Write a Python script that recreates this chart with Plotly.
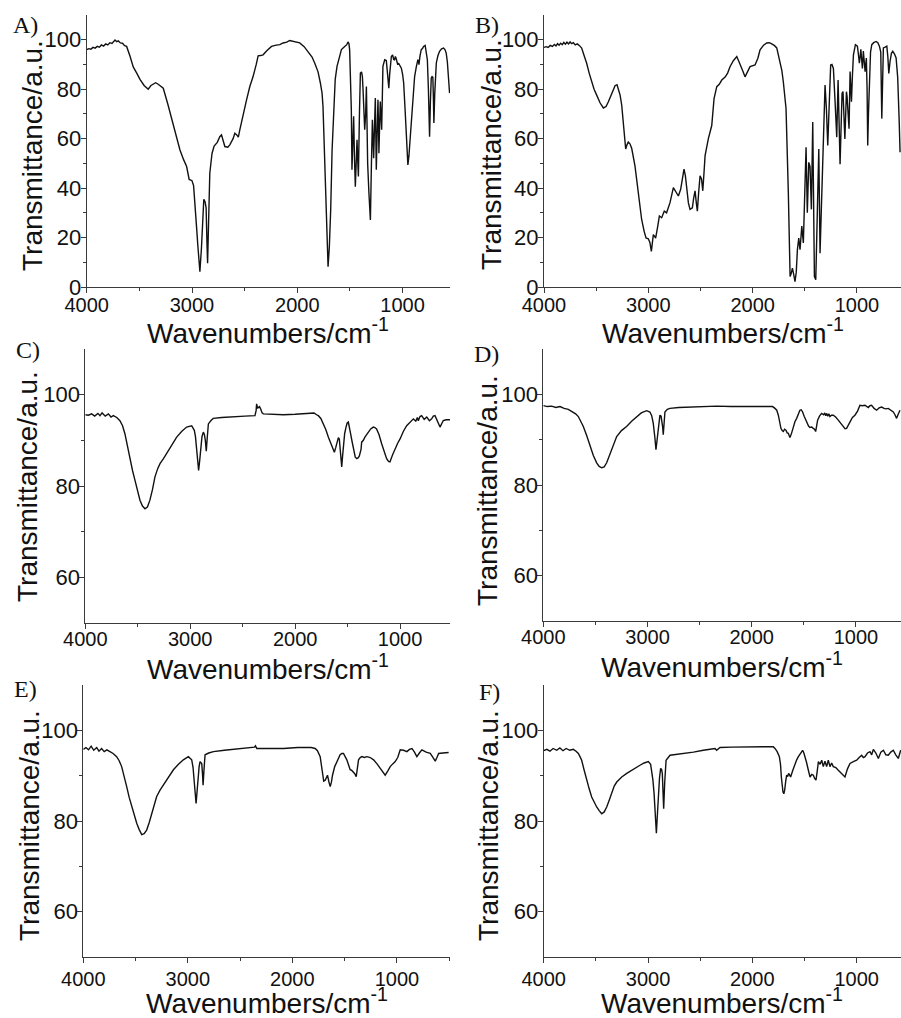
import plotly.graph_objects as go

# ---------------- data (wavenumber cm^-1, transmittance a.u.) ----------------
A_wn = [4000, 3980, 3960, 3940, 3920, 3900, 3880, 3860, 3840, 3820, 3800, 3780, 3760, 3745, 3731, 3715,
        3700, 3680, 3660, 3640, 3621, 3590, 3558, 3525, 3494, 3455, 3416, 3390, 3368, 3345, 3321, 3295,
        3273, 3230, 3179, 3145, 3115, 3080, 3051, 3027, 3000, 2985, 2973, 2957, 2945, 2925, 2910, 2900,
        2888, 2876, 2866, 2858, 2852, 2845, 2831, 2810, 2790, 2760, 2736, 2720, 2705, 2688, 2660, 2641,
        2610, 2593, 2575, 2560, 2546, 2520, 2482, 2451, 2420, 2390, 2372, 2350, 2325, 2290, 2245, 2200,
        2166, 2135, 2100, 2072, 2040, 1977, 1935, 1898, 1860, 1835, 1803, 1781, 1765, 1756, 1740, 1730,
        1718, 1708, 1696, 1683, 1670, 1654, 1640, 1623, 1600, 1581, 1550, 1530, 1519, 1510, 1503, 1495,
        1487, 1481, 1473, 1465, 1457, 1449, 1441, 1433, 1427, 1420, 1410, 1401, 1390, 1382, 1376, 1370,
        1360, 1351, 1344, 1338, 1332, 1320, 1306, 1296, 1287, 1281, 1275, 1267, 1259, 1254, 1250, 1242,
        1234, 1229, 1225, 1218, 1212, 1205, 1199, 1192, 1187, 1170, 1155, 1147, 1139, 1131, 1123, 1115,
        1107, 1095, 1085, 1077, 1069, 1062, 1054, 1046, 1038, 1025, 1012, 1000, 990, 978, 965, 957,
        950, 940, 927, 905, 886, 870, 855, 849, 845, 835, 823, 810, 801, 786, 775, 765, 755, 744, 736,
        728, 720, 713, 708, 703, 695, 680, 665, 649, 630, 611, 598, 586, 575, 565, 554]
A_T = [96.0, 96.4, 96.2, 96.9, 96.6, 97.3, 97.0, 97.9, 97.4, 98.3, 97.9, 98.8, 98.5, 99.3, 99.9, 99.2,
       99.5, 98.7, 98.6, 97.6, 97.3, 93.5, 89.0, 86.5, 84.0, 81.5, 80.0, 81.5, 82.2, 82.6, 82.0, 81.3,
       80.4, 74.0, 66.0, 60.0, 55.5, 51.5, 48.7, 43.5, 43.0, 41.0, 35.0, 24.4, 17.0, 6.2, 16.0, 27.0,
       35.5, 34.5, 32.0, 18.0, 9.6, 22.0, 46.0, 54.0, 57.0, 58.5, 60.8, 61.5, 59.0, 56.8, 56.5, 57.5,
       60.0, 62.2, 61.5, 60.6, 63.5, 69.0, 75.7, 81.1, 85.1, 90.0, 93.5, 93.6, 93.9, 95.5, 97.3, 97.8,
       98.0, 98.7, 99.0, 99.7, 99.4, 98.7, 97.2, 95.3, 93.0, 90.6, 87.0, 82.5, 78.4, 73.0, 50.0, 31.2,
       15.0, 8.2, 16.0, 31.2, 55.0, 74.4, 84.0, 89.2, 93.5, 96.0, 97.3, 98.0, 99.1, 98.5, 96.0, 85.0,
       71.7, 47.4, 60.0, 69.0, 52.0, 40.6, 50.0, 59.5, 52.0, 44.7, 70.0, 86.5, 87.0, 85.1, 80.0, 74.4,
       63.6, 70.0, 81.1, 66.0, 50.0, 38.0, 27.1, 50.0, 67.6, 60.0, 52.1, 65.0, 76.4, 60.0, 47.4, 62.0,
       75.7, 65.0, 54.1, 66.0, 75.0, 69.0, 63.6, 78.0, 89.2, 91.9, 91.6, 88.0, 85.1, 80.4, 86.0, 91.0,
       93.2, 93.9, 92.0, 91.9, 93.2, 92.5, 91.0, 89.9, 90.5, 89.5, 88.5, 86.0, 82.5, 73.0, 60.8, 53.0,
       49.4, 53.0, 60.8, 76.0, 85.1, 89.0, 91.9, 91.0, 89.9, 93.5, 96.0, 96.5, 97.3, 97.7, 94.6, 91.9,
       80.0, 60.8, 75.0, 84.5, 85.1, 84.8, 77.0, 66.3, 78.0, 90.6, 93.5, 95.3, 96.3, 96.6, 96.0, 94.6,
       91.0, 85.0, 78.4]

B_wn = [4000, 3980, 3960, 3940, 3920, 3900, 3885, 3870, 3855, 3840, 3825, 3810, 3795, 3780, 3765, 3750,
        3735, 3719, 3700, 3680, 3660, 3639, 3615, 3591, 3567, 3543, 3520, 3495, 3463, 3431, 3405, 3383,
        3350, 3319, 3300, 3287, 3270, 3255, 3244, 3233, 3217, 3205, 3192, 3175, 3159, 3128, 3096, 3064,
        3040, 3022, 3000, 2985, 2971, 2962, 2952, 2940, 2930, 2912, 2894, 2872, 2847, 2825, 2792, 2760,
        2735, 2712, 2690, 2670, 2658, 2645, 2632, 2616, 2600, 2578, 2565, 2552, 2540, 2530, 2518, 2504,
        2490, 2478, 2465, 2456, 2425, 2392, 2370, 2344, 2320, 2296, 2264, 2240, 2217, 2185, 2152, 2121,
        2100, 2073, 2050, 2025, 1977, 1950, 1929, 1895, 1865, 1840, 1817, 1790, 1769, 1737, 1720, 1706,
        1680, 1658, 1641, 1630, 1619, 1606, 1594, 1582, 1571, 1558, 1546, 1537, 1529, 1514, 1500, 1488,
        1476, 1462, 1450, 1437, 1424, 1416, 1408, 1395, 1385, 1366, 1354, 1343, 1332, 1320, 1306, 1293,
        1280, 1265, 1252, 1240, 1226, 1210, 1194, 1181, 1172, 1162, 1152, 1143, 1134, 1124, 1116, 1108,
        1101, 1095, 1085, 1076, 1066, 1060, 1053, 1044, 1034, 1015, 996, 986, 977, 970, 963, 955, 948,
        943, 939, 930, 922, 916, 910, 903, 897, 890, 881, 870, 858, 840, 817, 800, 785, 772, 762, 754,
        747, 730, 714, 704, 695, 683, 670, 657, 640, 625, 610, 596, 587]
B_T = [96.9, 97.2, 96.9, 97.7, 97.3, 98.1, 97.5, 98.4, 97.8, 98.6, 98.0, 98.9, 98.2, 99.0, 98.3, 99.1,
       98.4, 98.8, 97.9, 98.3, 97.6, 96.6, 93.5, 90.5, 86.5, 83.0, 80.0, 77.6, 74.5, 72.4, 73.0, 74.9,
       78.5, 81.4, 81.8, 80.3, 77.5, 73.5, 68.0, 62.7, 55.8, 57.5, 58.6, 57.8, 56.0, 49.0, 38.2, 27.3,
       22.5, 19.8, 19.5, 18.0, 14.4, 18.5, 21.2, 20.5, 19.8, 24.0, 28.7, 28.0, 30.7, 30.0, 34.1, 40.2,
       38.5, 36.8, 39.5, 44.0, 47.7, 45.0, 40.8, 34.0, 31.4, 32.0, 36.0, 38.9, 34.0, 30.7, 38.0, 45.0,
       43.7, 38.9, 47.0, 53.1, 59.9, 65.3, 76.2, 81.0, 82.0, 83.7, 84.9, 86.5, 89.1, 91.5, 93.2, 90.5,
       88.0, 85.0, 87.0, 89.1, 89.8, 92.5, 95.9, 97.8, 98.7, 98.8, 98.3, 97.6, 96.7, 91.2, 87.5, 83.0,
       72.2, 38.2, 4.2, 5.5, 7.6, 5.0, 2.2, 6.0, 15.1, 19.8, 15.1, 20.0, 24.6, 17.8, 35.0, 56.5,
       30.0, 50.4, 48.7, 31.4, 66.7, 40.0, 4.2, 2.9, 20.5, 55.8, 13.7, 30.0, 51.8, 68.0, 81.7, 72.0,
       57.2, 75.0, 89.8, 90.0, 88.4, 75.0, 60.6, 83.7, 70.0, 49.7, 65.0, 78.3, 79.0, 70.0, 59.9, 70.0,
       79.0, 77.0, 70.0, 64.0, 87.1, 80.0, 74.9, 85.0, 93.9, 98.0, 97.4, 94.0, 90.5, 93.0, 96.1, 92.0,
       88.4, 92.0, 95.4, 91.0, 87.1, 90.0, 92.6, 80.0, 57.2, 70.0, 87.1, 95.0, 98.0, 98.8, 99.3, 98.8,
       97.4, 95.0, 68.1, 85.0, 96.7, 97.0, 97.4, 93.0, 86.4, 91.2, 94.5, 95.3, 94.2, 92.6, 85.0, 68.1,
       54.5]

C_wn = [4000, 3970, 3940, 3910, 3880, 3860, 3840, 3810, 3780, 3755, 3733, 3700, 3670, 3645, 3622, 3598,
        3574, 3550, 3527, 3503, 3479, 3455, 3431, 3408, 3384, 3360, 3336, 3310, 3288, 3255, 3225, 3180,
        3129, 3080, 3034, 2986, 2961, 2950, 2939, 2928, 2920, 2910, 2901, 2888, 2875, 2865, 2856, 2847,
        2838, 2827, 2800, 2780, 2700, 2589, 2480, 2383, 2372, 2367, 2358, 2351, 2340, 2329, 2315, 2303,
        2250, 2180, 2112, 2000, 1900, 1858, 1820, 1795, 1779, 1755, 1731, 1707, 1683, 1664, 1645, 1636,
        1626, 1612, 1598, 1588, 1579, 1566, 1556, 1548, 1541, 1528, 1515, 1504, 1493, 1482, 1471, 1458,
        1446, 1436, 1427, 1412, 1398, 1388, 1379, 1372, 1366, 1350, 1335, 1318, 1303, 1280, 1255, 1240,
        1224, 1200, 1176, 1150, 1128, 1110, 1096, 1072, 1048, 1024, 1000, 968, 937, 905, 873, 850, 835,
        826, 810, 794, 770, 746, 720, 699, 683, 667, 645, 630, 619, 600, 588, 560, 524]
C_T = [95.6, 95.5, 95.8, 95.3, 95.9, 95.4, 96.0, 95.3, 95.8, 95.1, 95.4, 95.0, 94.3, 93.2, 91.4, 88.5,
       85.6, 83.4, 81.3, 79.0, 76.9, 75.6, 75.0, 75.4, 76.9, 79.2, 82.0, 83.8, 84.9, 86.0, 87.1, 89.0,
       90.7, 92.0, 92.9, 93.2, 92.2, 90.8, 88.5, 85.5, 83.4, 85.5, 88.5, 90.8, 91.8, 91.3, 90.0, 87.6,
       90.5, 93.6, 94.4, 94.8, 95.0, 95.2, 95.3, 95.4, 96.5, 98.0, 97.0, 97.2, 97.4, 96.9, 96.0, 95.8,
       95.7, 95.6, 95.6, 95.7, 95.8, 95.8, 96.0, 95.6, 95.4, 94.8, 93.6, 92.3, 90.7, 89.5, 88.2, 87.6,
       87.4, 88.5, 90.0, 90.6, 90.3, 87.5, 84.2, 86.5, 88.5, 91.5, 92.9, 93.8, 94.0, 93.0, 91.4, 89.8,
       88.5, 87.2, 86.3, 86.0, 86.2, 86.6, 87.4, 88.0, 89.6, 90.0, 90.7, 91.2, 91.8, 92.5, 92.9, 92.8,
       92.5, 91.2, 89.3, 87.5, 86.0, 85.4, 85.3, 86.8, 88.2, 89.3, 90.3, 92.0, 93.2, 94.0, 94.7, 94.2,
       95.0, 94.3, 95.2, 95.4, 94.6, 95.1, 94.3, 94.7, 95.3, 95.4, 94.2, 93.8, 92.9, 93.8, 94.3, 94.5,
       94.5]

D_wn = [4000, 3960, 3920, 3880, 3840, 3800, 3760, 3735, 3712, 3690, 3664, 3640, 3616, 3584, 3552, 3520,
        3488, 3464, 3440, 3416, 3392, 3368, 3344, 3320, 3296, 3250, 3201, 3150, 3105, 3060, 3009, 2977,
        2960, 2945, 2930, 2919, 2910, 2900, 2890, 2881, 2870, 2862, 2855, 2849, 2841, 2833, 2810, 2785,
        2700, 2600, 2500, 2400, 2337, 2200, 2100, 2000, 1900, 1857, 1800, 1777, 1760, 1745, 1730, 1720,
        1708, 1697, 1685, 1672, 1660, 1649, 1640, 1633, 1617, 1601, 1585, 1569, 1553, 1538, 1525, 1512,
        1496, 1480, 1467, 1455, 1442, 1425, 1410, 1398, 1387, 1380, 1368, 1350, 1330, 1310, 1300, 1290,
        1282, 1270, 1260, 1250, 1235, 1218, 1195, 1170, 1145, 1122, 1105, 1090, 1074, 1058, 1034, 1010,
        985, 962, 940, 914, 898, 882, 866, 850, 826, 802, 778, 754, 730, 715, 690, 666, 642, 626, 610,
        595, 578]
D_T = [97.5, 97.3, 97.4, 97.1, 97.3, 96.9, 96.7, 96.3, 96.1, 95.7, 95.1, 94.1, 92.9, 90.9, 88.5, 86.5,
       84.9, 84.1, 83.8, 84.0, 84.9, 86.3, 87.8, 89.3, 90.7, 92.0, 92.9, 94.1, 95.1, 95.9, 96.4, 96.1,
       95.3, 93.6, 90.6, 87.8, 89.6, 92.1, 94.3, 95.4, 95.2, 94.3, 92.8, 91.1, 94.0, 96.1, 96.7, 96.9,
       97.1, 97.2, 97.3, 97.3, 97.4, 97.3, 97.3, 97.4, 97.4, 97.4, 97.3, 96.9, 96.5, 95.4, 93.5, 92.5,
       92.0, 91.8, 92.3, 92.1, 91.5, 91.4, 90.8, 90.5, 91.5, 92.9, 94.0, 94.7, 95.8, 96.5, 96.6, 96.1,
       95.1, 94.2, 93.6, 93.0, 92.7, 92.8, 92.5, 92.3, 91.8, 93.0, 94.3, 95.2, 95.8, 95.5, 95.9, 95.3,
       95.8, 95.2, 95.7, 95.1, 95.4, 95.4, 95.0, 94.3, 93.5, 92.9, 92.4, 92.5, 93.2, 94.0, 94.9, 95.4,
       96.3, 97.6, 97.5, 97.6, 97.3, 97.1, 97.5, 97.6, 96.9, 96.5, 97.0, 97.2, 96.9, 96.8, 96.9, 96.5,
       96.1, 95.5, 94.7, 95.6, 96.5]

E_wn = [4000, 3975, 3950, 3925, 3900, 3872, 3850, 3825, 3800, 3775, 3745, 3715, 3681, 3657, 3633, 3609,
        3585, 3561, 3537, 3513, 3489, 3465, 3441, 3418, 3394, 3370, 3346, 3322, 3298, 3266, 3234, 3186,
        3138, 3090, 3043, 2995, 2963, 2950, 2937, 2929, 2921, 2911, 2902, 2892, 2883, 2867, 2860, 2854,
        2845, 2835, 2800, 2755, 2650, 2564, 2450, 2363, 2353, 2340, 2250, 2085, 1950, 1862, 1820, 1782,
        1760, 1734, 1722, 1712, 1700, 1686, 1675, 1664, 1650, 1638, 1627, 1616, 1595, 1574, 1558, 1543,
        1527, 1511, 1495, 1479, 1463, 1447, 1434, 1421, 1405, 1389, 1378, 1367, 1351, 1335, 1311, 1287,
        1255, 1223, 1190, 1160, 1136, 1112, 1088, 1064, 1040, 1016, 992, 968, 936, 904, 880, 856, 832,
        809, 785, 761, 720, 681, 657, 633, 617, 601, 560, 505]
E_T = [95.8, 96.2, 95.7, 96.5, 95.6, 96.2, 95.4, 96.0, 95.3, 95.7, 95.3, 94.9, 94.2, 93.3, 92.0, 90.0,
       87.6, 85.2, 83.2, 81.2, 79.5, 78.1, 77.0, 77.2, 78.0, 79.6, 81.7, 83.6, 85.4, 86.8, 87.9, 89.8,
       91.3, 92.5, 93.5, 94.2, 93.5, 91.8, 89.0, 86.0, 83.9, 86.8, 89.8, 92.0, 93.1, 92.7, 90.5, 87.9,
       91.5, 94.6, 95.0, 95.3, 95.6, 95.8, 96.0, 96.3, 96.6, 96.0, 96.0, 96.0, 96.2, 96.3, 96.2, 96.0,
       95.5, 94.2, 92.0, 89.8, 88.8, 89.0, 89.6, 90.1, 88.6, 87.6, 88.5, 90.1, 92.0, 93.1, 94.0, 94.6,
       94.9, 94.9, 94.2, 93.5, 92.4, 91.3, 91.2, 90.9, 90.5, 89.8, 92.0, 93.5, 94.0, 94.2, 94.0, 94.2,
       94.0, 93.5, 92.6, 91.6, 90.8, 90.1, 91.0, 92.0, 92.6, 93.1, 94.0, 95.7, 95.6, 95.3, 95.8, 96.0,
       95.2, 94.2, 95.0, 95.7, 95.2, 94.9, 94.1, 93.2, 94.0, 94.9, 95.0, 95.1]

F_wn = [4000, 3970, 3940, 3910, 3875, 3845, 3815, 3785, 3750, 3716, 3690, 3668, 3652, 3636, 3612, 3588,
        3564, 3540, 3516, 3492, 3468, 3444, 3420, 3396, 3372, 3348, 3324, 3300, 3252, 3204, 3140, 3077,
        3037, 2997, 2975, 2965, 2953, 2942, 2930, 2920, 2910, 2901, 2890, 2879, 2870, 2863, 2857, 2850,
        2840, 2827, 2789, 2725, 2661, 2565, 2470, 2400, 2358, 2342, 2310, 2200, 2022, 1900, 1863, 1800,
        1783, 1762, 1741, 1730, 1722, 1714, 1706, 1698, 1690, 1680, 1671, 1661, 1652, 1642, 1633, 1612,
        1591, 1575, 1559, 1538, 1518, 1506, 1495, 1479, 1463, 1455, 1447, 1431, 1415, 1403, 1390, 1378,
        1367, 1351, 1335, 1320, 1304, 1288, 1272, 1256, 1240, 1224, 1200, 1176, 1144, 1112, 1088, 1064,
        1032, 1000, 976, 952, 936, 920, 896, 872, 856, 840, 816, 792, 768, 744, 720, 697, 673, 649, 625,
        601, 578]
F_T = [95.5, 95.8, 95.4, 96.0, 95.6, 96.1, 95.5, 96.0, 95.6, 95.8, 95.4, 94.9, 94.2, 93.4, 91.2, 89.0,
       87.1, 85.3, 84.0, 83.1, 82.3, 81.6, 82.0, 83.1, 84.6, 86.4, 87.7, 88.6, 89.7, 90.5, 91.5, 92.3,
       92.8, 93.1, 92.5, 91.2, 89.0, 86.1, 80.5, 77.3, 81.5, 86.1, 89.5, 91.6, 91.4, 90.5, 87.0, 82.7,
       88.5, 93.4, 94.5, 94.7, 94.8, 95.2, 95.6, 95.9, 96.0, 95.6, 96.2, 96.3, 96.4, 96.5, 96.5, 96.4,
       96.0, 95.3, 94.2, 92.5, 89.7, 87.5, 86.4, 86.0, 86.8, 88.8, 90.1, 89.8, 90.5, 90.1, 89.7, 91.2,
       92.7, 93.5, 94.2, 95.0, 95.6, 95.0, 94.2, 92.8, 91.2, 89.9, 89.7, 90.3, 90.1, 89.4, 89.0, 91.0,
       93.1, 92.5, 93.4, 92.0, 93.2, 92.0, 93.4, 92.0, 92.8, 92.0, 91.8, 91.2, 90.5, 89.7, 91.5, 92.7,
       93.1, 93.4, 94.0, 94.5, 94.0, 94.2, 95.0, 95.3, 94.6, 95.8, 95.0, 93.8, 95.2, 95.6, 94.6, 94.5,
       95.2, 95.6, 94.6, 93.8, 95.6]

panel_letters = ["A)", "B)", "C)", "D)", "E)", "F)"]
x_tickvals = [4000, 3000, 2000, 1000]
x_minor = [3500, 2500, 1500, 500]
y_ticks_top = [0, 20, 40, 60, 80, 100]
y_minor_top = [10, 30, 50, 70, 90]
y_ticks_low = [60, 80, 100]
y_minor_low = [70, 90]
x_title = "Wavenumbers/cm<sup>-1</sup>"
y_title = "Transmittance/a.u."

# ---------------- layout geometry (pixels) ----------------
W, H = 901, 1018
panels = [
    (A_wn, A_T, (86.7, 450, 15, 287), 550, [0, 110], y_ticks_top, y_minor_top),
    (B_wn, B_T, (544, 901, 15, 287), 578, [0, 110], y_ticks_top, y_minor_top),
    (C_wn, C_T, (85.3, 450, 349, 623), 524, [50, 110], y_ticks_low, y_minor_low),
    (D_wn, D_T, (543.3, 901, 349, 621), 568, [50, 110], y_ticks_low, y_minor_low),
    (E_wn, E_T, (83.3, 450, 685, 957), 492, [50, 110], y_ticks_low, y_minor_low),
    (F_wn, F_T, (543.7, 901, 685, 957), 575, [50, 110], y_ticks_low, y_minor_low),
]
x_label_standoff = [-5, -5, -7, -7, -1, -1]
label_pos = [(11, 25), (473, 25), (14, 350), (472, 354), (12, 689), (477, 692)]
ytitle_pos = [(32, 156), (491, 154), (27, 487), (487, 491), (29, 826), (488, 826)]

AX = "#3a3a3a"
XTICKFONT = dict(family="Liberation Sans, Arial, sans-serif", size=20, color="#111111")
YTICKFONT = dict(family="Liberation Sans, Arial, sans-serif", size=22, color="#111111")
TITLEFONT = dict(family="Liberation Sans, Arial, sans-serif", size=28, color="#111111")

fig = go.Figure()
layout = dict(
    template="none",
    width=W, height=H, margin=dict(l=0, r=0, t=0, b=0, pad=0, autoexpand=False),
    paper_bgcolor="white", plot_bgcolor="white", showlegend=False,
)
annotations = []
for i, (wn, T, (l, r, t, b), xend, yr, yt, ym) in enumerate(panels):
    n = i + 1
    xs = "x" if n == 1 else f"x{n}"
    ys = "y" if n == 1 else f"y{n}"
    fig.add_trace(go.Scatter(x=wn, y=T, xaxis=xs, yaxis=ys, mode="lines",
                             line=dict(color="#111111", width=1.4), hoverinfo="skip"))
    layout["xaxis" if n == 1 else f"xaxis{n}"] = dict(
        domain=[l / W, r / W], anchor=ys, range=[4000, xend], tickvals=x_tickvals,
        ticks="outside", ticklen=5, tickwidth=1, tickcolor=AX, showline=True,
        linecolor=AX, linewidth=1, showgrid=False, zeroline=False, tickfont=XTICKFONT,
        minor=dict(tickvals=x_minor, ticks="outside", ticklen=3, tickcolor=AX, showgrid=False),
        ticklabelstandoff=x_label_standoff[i], automargin=False,
    )
    layout["yaxis" if n == 1 else f"yaxis{n}"] = dict(
        domain=[1 - b / H, 1 - t / H], anchor=xs, range=yr, tickvals=yt,
        ticks="outside", ticklen=5, tickwidth=1, tickcolor=AX, showline=True,
        linecolor=AX, linewidth=1, showgrid=False, zeroline=False, tickfont=YTICKFONT,
        minor=dict(tickvals=ym, ticks="outside", ticklen=3, tickcolor=AX, showgrid=False),
        ticklabelstandoff=-5, automargin=False,
    )
    annotations.append(dict(text=x_title, xref="paper", yref="paper",
                            x=((l + r) / 2) / W, y=1 - (b + 44) / H,
                            xanchor="center", yanchor="middle", showarrow=False, font=TITLEFONT))
    yx, yy = ytitle_pos[i]
    annotations.append(dict(text=y_title, xref="paper", yref="paper", x=yx / W, y=1 - yy / H,
                            xanchor="center", yanchor="middle", textangle=-90, showarrow=False,
                            font=TITLEFONT))
    lx, ly = label_pos[i]
    annotations.append(dict(text=panel_letters[i], xref="paper", yref="paper", x=lx / W, y=1 - ly / H,
                            xanchor="left", yanchor="middle", showarrow=False,
                            font=dict(family="Liberation Serif, Times New Roman, serif", size=24,
                                      color="#111111")))
layout["annotations"] = annotations
fig.update_layout(**layout)
fig.write_html(
    "out.html",
    config={"displayModeBar": False, "staticPlot": True},
    post_script="document.body.style.margin='0';document.body.style.overflow='hidden';",
)
